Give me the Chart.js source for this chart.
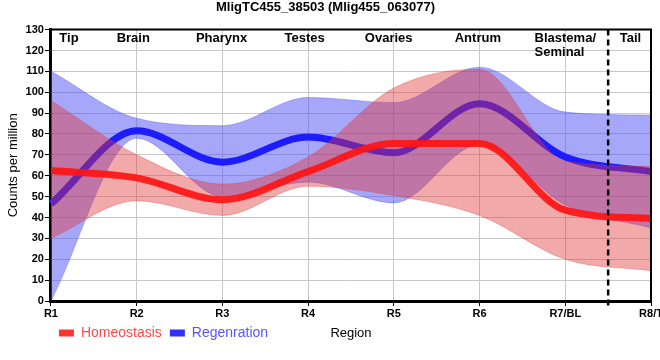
<!DOCTYPE html>
<html>
<head>
<meta charset="utf-8">
<script src="https://cdn.jsdelivr.net/npm/chart.js@4.4.1/dist/chart.umd.min.js"></script>
<style>
  html, body { margin: 0; padding: 0; background: #fff; }
</style>
</head>
<body>
<canvas id="myChart" width="660" height="360"></canvas>
<script>
// regions along the body (x axis)
var regions = ['R1', 'R2', 'R3', 'R4', 'R5', 'R6', 'R7/BL', 'R8/T'];

// Homeostasis: mean and band
var homeoMean = [62.5, 59, 48.5, 62, 75.5, 75.5, 43.5, 39.5];
var homeoLow  = [30, 48, 41, 55, 50.5, 41, 20, 14.5];
var homeoHigh = [96, 70, 56, 69, 102, 111, 67, 64.5];

// Regeneration: mean and band
var regenMean = [46.5, 81.5, 66.5, 78.5, 71, 94.5, 69, 62];
var regenLow  = [0, 78, 50, 57, 47, 75, 46, 35];
var regenHigh = [110, 87.5, 84, 97.5, 95, 112, 90.5, 89];

// tissue names written along the top
var tissues = ['Tip', 'Brain', 'Pharynx', 'Testes', 'Ovaries', 'Antrum', ['Blastema/', 'Seminal'], 'Tail'];

Chart.defaults.font.family = '"Liberation Sans", Arial, sans-serif';
Chart.defaults.color = '#000';

// where the tissue names sit, in x axis units
var tissueAt = [0.21, 0.96, 1.99, 2.96, 3.94, 4.98, 6.0, 6.76];
var tailSplit = 6.5;

var extras = {
  id: 'extras',
  afterLayout: function(chart) {
    // pull the legend up onto the same row as the axis title
    chart.legend.top -= 3;
    chart.legend.bottom -= 3;
  },
  afterDatasetsDraw: function(chart) {
    var ctx = chart.ctx;
    var area = chart.chartArea;
    var x = chart.scales.x;
    ctx.save();

    // dashed split between blastema and tail
    var xs = x.getPixelForValue(tailSplit);
    ctx.strokeStyle = '#000';
    ctx.lineWidth = 2.5;
    ctx.setLineDash([6, 4]);
    ctx.beginPath();
    ctx.moveTo(xs, area.top);
    ctx.lineTo(xs, area.bottom + 5);
    ctx.stroke();
    ctx.setLineDash([]);

    // top and right frame
    ctx.lineWidth = 2;
    ctx.beginPath();
    ctx.moveTo(area.left, area.top);
    ctx.lineTo(area.right, area.top);
    ctx.lineTo(area.right, area.bottom);
    ctx.stroke();

    // tissue names
    ctx.font = 'bold 13px "Liberation Sans", Arial, sans-serif';
    ctx.fillStyle = '#000';
    ctx.textBaseline = 'middle';
    tissues.forEach(function(name, i) {
      var cx = x.getPixelForValue(tissueAt[i]);
      var lines = Array.isArray(name) ? name : [name];
      var w = ctx.measureText(lines[0]).width;
      ctx.textAlign = 'left';
      lines.forEach(function(t, j) {
        ctx.fillText(t, cx - w / 2, area.top + 9 + j * 14);
      });
    });
    ctx.restore();
  }
};

function band(label, data, edge) {
  return { label: label, data: data, borderColor: edge, borderWidth: 1, fill: false };
}

var hLow = band('hlow', homeoLow, 'rgba(220,60,60,0.35)');
hLow.order = 2;
var hHigh = band('hhigh', homeoHigh, 'rgba(220,60,60,0.35)');
hHigh.order = 2;
hHigh.fill = 1;
hHigh.backgroundColor = 'rgba(225,50,50,0.42)';

var rLow = band('rlow', regenLow, 'rgba(70,70,240,0.35)');
rLow.order = 4;
var rHigh = band('rhigh', regenHigh, 'rgba(70,70,240,0.35)');
rHigh.order = 4;
rHigh.fill = 4;
rHigh.backgroundColor = 'rgba(80,80,245,0.5)';

new Chart('myChart', {
  type: 'line',
  data: {
    labels: regions,
    datasets: [
      { label: 'Homeostasis', data: homeoMean, borderColor: 'rgba(255,20,20,0.92)', backgroundColor: '#ff3535', borderWidth: 7, order: 1, fill: false },
      hLow,
      hHigh,
      { label: 'Regenration', data: regenMean, borderColor: '#1c1cff', backgroundColor: '#3030ff', borderWidth: 7, order: 3, fill: false },
      rLow,
      rHigh
    ]
  },
  options: {
    responsive: false,
    animation: false,
    elements: {
      point: { radius: 0, hoverRadius: 0 },
      line: { cubicInterpolationMode: 'monotone' }
    },
    layout: { padding: { left: 0, right: 9, top: 0, bottom: 7 } },
    plugins: {
      title: {
        display: true,
        text: 'MligTC455_38503 (Mlig455_063077)',
        color: '#000',
        font: { size: 13, weight: 'bold' },
        padding: { top: 0, bottom: 14 }
      },
      legend: {
        position: 'bottom',
        align: 'start',
        fullSize: false,
        labels: {
          boxWidth: 15,
          boxHeight: 7,
          padding: 8,
          font: { size: 14 },
          generateLabels: function(chart) {
            var items = Chart.defaults.plugins.legend.labels.generateLabels(chart);
            items.forEach(function(it) {
              it.lineWidth = 0;
              it.fontColor = it.datasetIndex === 0 ? '#ff4848' : '#5555ff';
            });
            return items;
          },
          filter: function(item) {
            return item.datasetIndex === 0 || item.datasetIndex === 3;
          }
        }
      },
      tooltip: { enabled: false }
    },
    scales: {
      x: {
        offset: false,
        grid: { color: '#c8c8c8', tickColor: '#000', tickLength: 5 },
        border: { color: '#000', width: 3 },
        ticks: { color: '#000', font: { size: 11, weight: 'bold' }, padding: 1, maxRotation: 0, autoSkip: false },
        title: { display: true, text: 'Region', color: '#000', font: { size: 13 }, padding: { top: 4, bottom: -19.8 } },
        afterFit: function(s) { s.paddingRight = 0; }
      },
      y: {
        min: 0,
        max: 130,
        ticks: { stepSize: 10, color: '#000', font: { size: 11, weight: 'bold' }, padding: 1 },
        grid: { color: '#c8c8c8', tickColor: '#000', tickLength: 6 },
        border: { color: '#000', width: 3 },
        title: { display: true, text: 'Counts per million', color: '#000', font: { size: 13 }, padding: { top: 6, bottom: 3 } }
      }
    }
  },
  plugins: [extras]
});
</script>
</body>
</html>
